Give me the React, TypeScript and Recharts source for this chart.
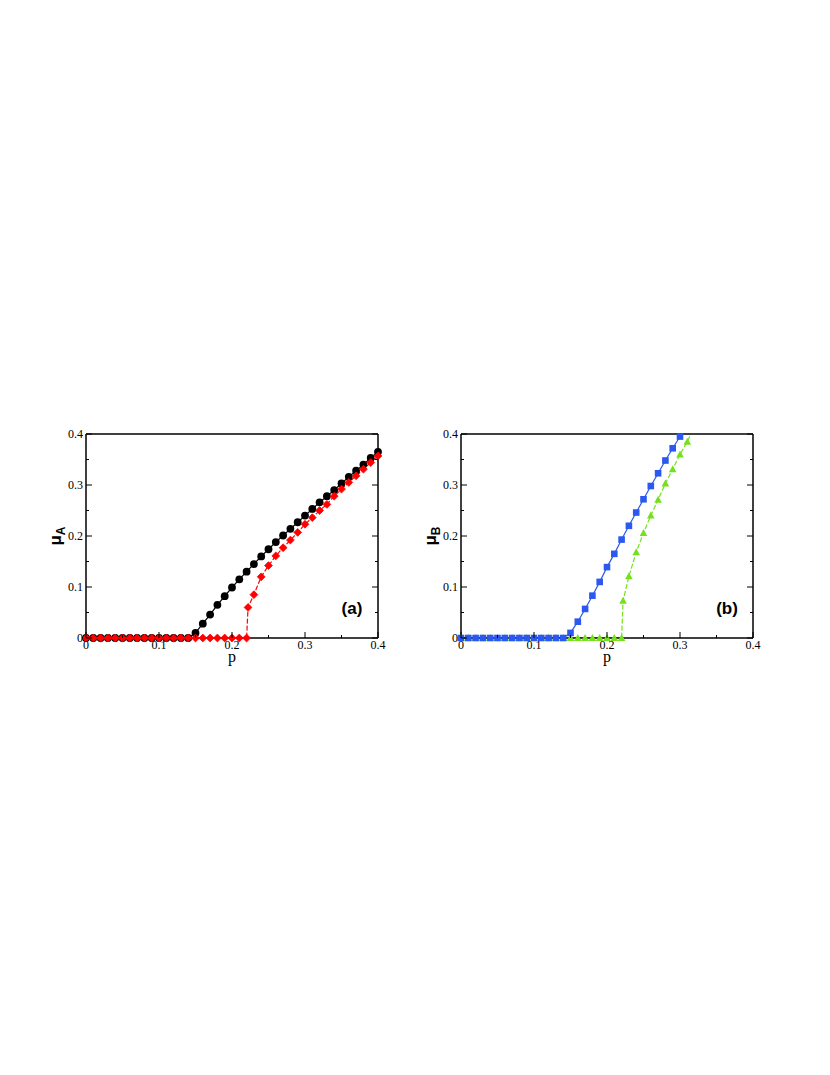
import React from 'react';
import { LineChart, Line, XAxis, YAxis } from 'recharts';

// ---------- data ----------
const pBlack = [0, 0.01, 0.02, 0.03, 0.04, 0.05, 0.06, 0.07, 0.08, 0.09, 0.1, 0.11, 0.12, 0.13, 0.14, 0.15, 0.16, 0.17, 0.18, 0.19, 0.2, 0.21, 0.22, 0.23, 0.24, 0.25, 0.26, 0.27, 0.28, 0.29, 0.3, 0.31, 0.32, 0.33, 0.34, 0.35, 0.36, 0.37, 0.38, 0.39, 0.4];
const muBlack = [0, 0, 0, 0, 0, 0, 0, 0, 0, 0, 0, 0, 0, 0, 0, 0.01, 0.028, 0.046, 0.065, 0.082, 0.099, 0.115, 0.13, 0.145, 0.16, 0.174, 0.188, 0.201, 0.214, 0.227, 0.24, 0.253, 0.266, 0.278, 0.29, 0.303, 0.316, 0.328, 0.34, 0.353, 0.365];

const pRed = [0, 0.01, 0.02, 0.03, 0.04, 0.05, 0.06, 0.07, 0.08, 0.09, 0.1, 0.11, 0.12, 0.13, 0.14, 0.15, 0.16, 0.17, 0.18, 0.19, 0.2, 0.21, 0.22, 0.222, 0.23, 0.24, 0.25, 0.26, 0.27, 0.28, 0.29, 0.3, 0.31, 0.32, 0.33, 0.34, 0.35, 0.36, 0.37, 0.38, 0.39, 0.4];
const muRed = [0, 0, 0, 0, 0, 0, 0, 0, 0, 0, 0, 0, 0, 0, 0, 0, 0, 0, 0, 0, 0, 0, 0, 0.06, 0.085, 0.12, 0.142, 0.161, 0.177, 0.192, 0.207, 0.223, 0.236, 0.25, 0.262, 0.278, 0.292, 0.305, 0.318, 0.331, 0.344, 0.357];

const pBlue = [0, 0.01, 0.02, 0.03, 0.04, 0.05, 0.06, 0.07, 0.08, 0.09, 0.1, 0.11, 0.12, 0.13, 0.14, 0.15, 0.16, 0.17, 0.18, 0.19, 0.2, 0.21, 0.22, 0.23, 0.24, 0.25, 0.26, 0.27, 0.28, 0.29, 0.3, 0.31];
const muBlue = [0, 0, 0, 0, 0, 0, 0, 0, 0, 0, 0, 0, 0, 0, 0, 0.01, 0.032, 0.057, 0.083, 0.11, 0.139, 0.165, 0.193, 0.22, 0.246, 0.272, 0.298, 0.323, 0.348, 0.372, 0.395, 0.42];

const pGreen = [0, 0.01, 0.02, 0.03, 0.04, 0.05, 0.06, 0.07, 0.08, 0.09, 0.1, 0.11, 0.12, 0.13, 0.14, 0.15, 0.16, 0.17, 0.18, 0.19, 0.2, 0.21, 0.22, 0.222, 0.23, 0.24, 0.25, 0.26, 0.27, 0.28, 0.29, 0.3, 0.31, 0.32];
const muGreen = [0, 0, 0, 0, 0, 0, 0, 0, 0, 0, 0, 0, 0, 0, 0, 0, 0, 0, 0, 0, 0, 0, 0, 0.073, 0.121, 0.168, 0.206, 0.24, 0.271, 0.303, 0.331, 0.36, 0.385, 0.415];

const majorTicks = [0, 0.1, 0.2, 0.3, 0.4];
const tickLabels = ['0', '0.1', '0.2', '0.3', '0.4'];
const minorTicks = [0.05, 0.15, 0.25, 0.35];
const allTicks = [...majorTicks, ...minorTicks].sort((a, b) => a - b);
const axisDomain: [number, number] = [0, 0.4];

// ---------- helpers ----------
const toRows = (ps: number[], vs: number[]) => ps.map((p, i) => ({ p, v: vs[i] }));
const inRange = (rows: { p: number; v: number }[]) => rows.filter((r) => r.v <= axisDomain[1]);

const labelFor = (v: number) => {
  const i = majorTicks.findIndex((m) => Math.abs(m - v) < 1e-9);
  return i >= 0 ? tickLabels[i] : null;
};

const MAJOR = 6;
const MINOR = 3;
const serif = '"Liberation Serif", "Times New Roman", serif';
const sans = '"Liberation Sans", Arial, sans-serif';
const frame = { stroke: '#000', strokeWidth: 1.5 };

const BottomTick = (props: any) => {
  const { x, y, payload } = props;
  const lab = labelFor(payload.value);
  return (
    <g>
      <line x1={x} x2={x} y1={y} y2={y - (lab ? MAJOR : MINOR)} stroke="#000" strokeWidth={1} />
      {lab && (
        <text x={x} y={y + 10.5} textAnchor="middle" fontFamily={serif} fontSize={12} fill="#000">
          {lab}
        </text>
      )}
    </g>
  );
};
const TopTick = (props: any) => {
  const { x, y, payload } = props;
  const lab = labelFor(payload.value);
  return <line x1={x} x2={x} y1={y} y2={y + (lab ? MAJOR : MINOR)} stroke="#000" strokeWidth={1} />;
};
const LeftTick = (props: any) => {
  const { x, y, payload } = props;
  const lab = labelFor(payload.value);
  return (
    <g>
      <line x1={x} x2={x + (lab ? MAJOR : MINOR)} y1={y} y2={y} stroke="#000" strokeWidth={1} />
      {lab && (
        <text x={x - 3} y={y + 4} textAnchor="end" fontFamily={serif} fontSize={12} fill="#000">
          {lab}
        </text>
      )}
    </g>
  );
};
const RightTick = (props: any) => {
  const { x, y, payload } = props;
  const lab = labelFor(payload.value);
  return <line x1={x} x2={x - (lab ? MAJOR : MINOR)} y1={y} y2={y} stroke="#000" strokeWidth={1} />;
};

// ---------- markers ----------
const circleDot = (color: string) => (props: any) => (
  <circle key={`c-${props.index}`} cx={props.cx} cy={props.cy} r={3.9} fill={color} />
);
const diamondDot = (color: string) => (props: any) => {
  const { cx, cy } = props;
  const s = 3.9;
  return (
    <polygon
      key={`d-${props.index}`}
      points={`${cx},${cy - s} ${cx + s},${cy} ${cx},${cy + s} ${cx - s},${cy}`}
      fill={color}
      stroke={color}
      strokeWidth={0.8}
    />
  );
};
const squareDot = (color: string) => (props: any) => (
  <rect key={`s-${props.index}`} x={props.cx - 3.3} y={props.cy - 3.3} width={6.6} height={6.6} fill={color} />
);
const triangleDot = (color: string) => (props: any) => {
  const { cx, cy } = props;
  return (
    <polygon
      key={`t-${props.index}`}
      points={`${cx},${cy - 4} ${cx + 3.8},${cy + 3} ${cx - 3.8},${cy + 3}`}
      fill={color}
    />
  );
};

type Series = {
  name: string;
  rows: { p: number; v: number }[];
  color: string;
  dash?: string;
  dot: (props: any) => React.ReactElement;
};

const seriesA: Series[] = [
  { name: 'black', rows: toRows(pBlack, muBlack), color: '#000000', dot: circleDot('#000000') },
  { name: 'red', rows: toRows(pRed, muRed), color: '#ff0000', dash: '5 2', dot: diamondDot('#ff0000') },
];
const seriesB: Series[] = [
  { name: 'green', rows: toRows(pGreen, muGreen), color: '#74e11c', dash: '5 2', dot: triangleDot('#74e11c') },
  { name: 'blue', rows: toRows(pBlue, muBlue), color: '#2a58f0', dot: squareDot('#2a58f0') },
];

const W = 400;
const H = 280;

function Panel({ left, series, sub, tag }: { left: number; series: Series[]; sub: string; tag: string }) {
  const pLabel = (props: any) => {
    const vb = props.viewBox || {};
    return (
      <text x={vb.x + vb.width / 2} y={vb.y + 24} textAnchor="middle" fontFamily={serif} fontSize={16} fill="#000">
        p
      </text>
    );
  };
  const muLabel = (props: any) => {
    const vb = props.viewBox || {};
    const cx = vb.x;
    const cy = vb.y + vb.height / 2;
    return (
      <text
        x={cx}
        y={cy}
        transform={`rotate(-90 ${cx} ${cy})`}
        textAnchor="middle"
        fontFamily={sans}
        fontWeight="bold"
        fill="#000"
      >
        <tspan fontSize={17} dy={5}>μ</tspan>
        <tspan fontSize={12} dy={4}>{sub}</tspan>
      </text>
    );
  };
  return (
    <div style={{ position: 'absolute', left, top: 392, width: W, height: H }}>
      <LineChart width={W} height={H} margin={{ top: 24, right: 12, bottom: 12, left: 56 }}>
        <XAxis
          xAxisId="b"
          dataKey="p"
          type="number"
          domain={axisDomain}
          ticks={allTicks}
          interval={0}
          tickSize={0}
          tickMargin={0}
          tickLine={false}
          axisLine={frame}
          tick={<BottomTick />}
          height={30}
          label={{ content: pLabel }}
        />
        <XAxis
          xAxisId="t"
          orientation="top"
          type="number"
          domain={axisDomain}
          allowDataOverflow
          ticks={allTicks}
          interval={0}
          tickSize={0}
          tickMargin={0}
          tickLine={false}
          axisLine={frame}
          tick={<TopTick />}
          height={10}
        />
        <YAxis
          yAxisId="l"
          type="number"
          domain={axisDomain}
          ticks={allTicks}
          interval={0}
          tickSize={0}
          tickMargin={0}
          tickLine={false}
          axisLine={frame}
          tick={<LeftTick />}
          width={30}
          label={{ content: muLabel }}
        />
        <YAxis
          yAxisId="r"
          orientation="right"
          type="number"
          domain={axisDomain}
          allowDataOverflow
          ticks={allTicks}
          interval={0}
          tickSize={0}
          tickMargin={0}
          tickLine={false}
          axisLine={frame}
          tick={<RightTick />}
          width={10}
        />
        {series.flatMap((s) => [
          <Line
            key={`${s.name}-line`}
            data={s.rows}
            dataKey="v"
            xAxisId="b"
            yAxisId="r"
            type="linear"
            stroke={s.color}
            strokeWidth={1.2}
            strokeDasharray={s.dash}
            dot={false}
            activeDot={false}
            isAnimationActive={false}
          />,
          <Line
            key={`${s.name}-marks`}
            data={inRange(s.rows)}
            dataKey="v"
            xAxisId="b"
            yAxisId="l"
            type="linear"
            stroke="none"
            dot={s.dot}
            activeDot={false}
            isAnimationActive={false}
          />,
        ])}
      </LineChart>
      <svg width={W} height={H} style={{ position: 'absolute', left: 0, top: 0, pointerEvents: 'none' }}>
        <text x={352} y={214} textAnchor="middle" fontFamily={sans} fontWeight="bold" fontSize={17} fill="#000">
          {tag}
        </text>
      </svg>
    </div>
  );
}

export default function App() {
  return (
    <div style={{ position: 'relative', width: 814, height: 1059, background: '#fff' }}>
      <Panel left={-8} series={seriesA} sub="A" tag="(a)" />
      <Panel left={367} series={seriesB} sub="B" tag="(b)" />
    </div>
  );
}
